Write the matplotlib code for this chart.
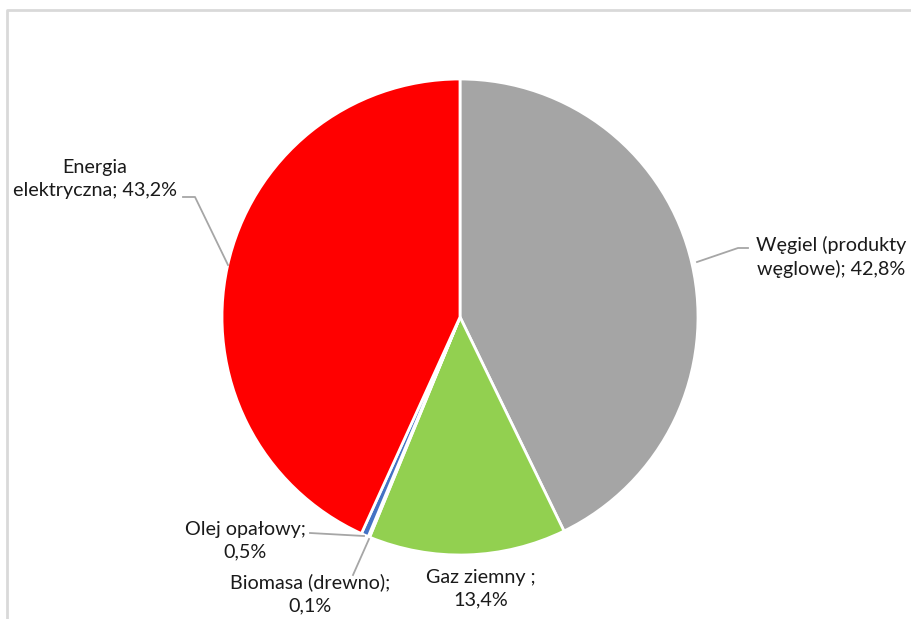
import numpy as np
import matplotlib
matplotlib.use("Agg")
import matplotlib.pyplot as plt

categories = ["Węgiel (produkty\nwęglowe); 42,8%", "Gaz ziemny ;\n13,4%", "Biomasa (drewno);\n0,1%",
              "Olej opałowy;\n0,5%", "Energia\nelektryczna; 43,2%"]
values = [42.8, 13.4, 0.1, 0.5, 43.2]
colors = ["#A5A5A5", "#92D050", "#ED7D31", "#4472C4", "#FF0000"]

W, H = 912, 619
fig = plt.figure(figsize=(W / 100, H / 100), dpi=100)
ax = fig.add_axes([0, 0, 1, 1])
ax.set_xlim(0, W)
ax.set_ylim(0, H)
ax.set_aspect("equal")
ax.axis("off")

cx, cy, R = 460, H - 317, 238
wedges, _ = ax.pie(values, colors=colors, startangle=90, counterclock=False,
                   center=(cx, cy), radius=R, frame=True,
                   wedgeprops=dict(edgecolor="white", linewidth=2))
ax.set_xlim(0, W)
ax.set_ylim(0, H)
ax.axis("off")

# border of chart area
ax.plot([7, 7, W], [0, H - 10, H - 10], color="#D9D9D9", lw=2, solid_capstyle="butt")

font = dict(family=["Lato", "DejaVu Sans"], fontsize=14.2, color="#1a1a1a")

labels_cfg = [
    (831, 257, "center", [(697, 262), (738, 248), (748, 248)]),
    (481, 589, "center", None),
    (310, 594, "center", [(369, 539), (353, 575)]),
    (245, 541, "center", [(364, 536), (310, 533)]),
    (95, 179, "center", [(228, 265), (195, 197), (183, 197)]),
]
for lab, (tx, ty, ha, pts) in zip(categories, labels_cfg):
    ax.text(tx, H - ty, lab, ha=ha, va="center", linespacing=1.4, **font)
    if pts:
        xs = [p[0] for p in pts]
        ys = [H - p[1] for p in pts]
        ax.plot(xs, ys, color="#A6A6A6", lw=1.3)

fig.savefig("out.png", dpi=100)
